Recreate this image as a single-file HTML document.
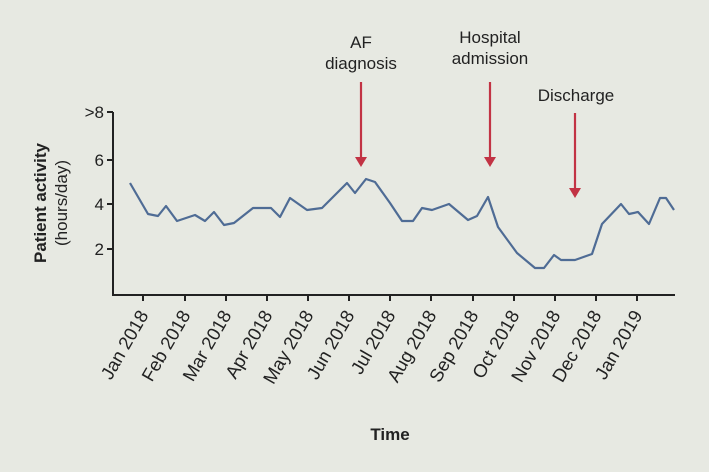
<!DOCTYPE html>
<html><head><meta charset="utf-8"><style>
body{margin:0;background:#e7e9e2;}
svg{display:block;font-family:"Liberation Sans",sans-serif;}
</style></head><body>
<svg width="709" height="472" viewBox="0 0 709 472">
<rect width="709" height="472" fill="#e7e9e2"/>
<g stroke="#222" stroke-width="2" fill="none">
<path d="M113,112 V295 H675"/>
<path d="M107,112H113M107,160H113M107,204H113M107,249H113"/>
<path d="M143,295v6M185,295v6M226,295v6M267,295v6M308,295v6M349,295v6M390,295v6M431,295v6M473,295v6M514,295v6M555,295v6M596,295v6M637,295v6"/>
</g>
<g font-size="17" fill="#222" text-anchor="end">
<text x="104" y="118">&gt;8</text>
<text x="104" y="166">6</text>
<text x="104" y="210">4</text>
<text x="104" y="255">2</text>
</g>
<polyline fill="none" stroke="#4f6c95" stroke-width="2.2" stroke-linejoin="round" points="130,183 148,214 158,216 166,206 177,221 195,215 205,221 214,212 224,225 234,223 253,208 271,208 280,217 290,198 307,210 322,208 347,183 355,193 366,179 375,182 390,203 402,221 413,221 422,208 432,210 449,204 468,220 477,216 488,197 498,227 517,253 535,268 544,268 554,255 561,260 575,260 592,254 602,224 621,204 629,214 638,212 649,224 660,198 666,198 674,210"/>
<g stroke="#c23344" stroke-width="2.2"><path d="M361,82V158M490,82V158M575,113V189"/></g>
<g fill="#c23344"><path d="M355,157H367L361,167Z"/><path d="M484,157H496L490,167Z"/><path d="M569,188H581L575,198Z"/></g>
<g font-size="17" fill="#222" text-anchor="middle">
<text x="361" y="48">AF</text><text x="361" y="69">diagnosis</text>
<text x="490" y="43">Hospital</text><text x="490" y="64">admission</text>
<text x="576" y="101">Discharge</text>
</g>
<g font-size="18.5" fill="#222" text-anchor="end">
<text transform="translate(149,315) rotate(-60)">Jan 2018</text>
<text transform="translate(191,315) rotate(-60)">Feb 2018</text>
<text transform="translate(232,315) rotate(-60)">Mar 2018</text>
<text transform="translate(273,315) rotate(-60)">Apr 2018</text>
<text transform="translate(314,315) rotate(-60)">May 2018</text>
<text transform="translate(355,315) rotate(-60)">Jun 2018</text>
<text transform="translate(396,315) rotate(-60)">Jul 2018</text>
<text transform="translate(437,315) rotate(-60)">Aug 2018</text>
<text transform="translate(479,315) rotate(-60)">Sep 2018</text>
<text transform="translate(520,315) rotate(-60)">Oct 2018</text>
<text transform="translate(561,315) rotate(-60)">Nov 2018</text>
<text transform="translate(602,315) rotate(-60)">Dec 2018</text>
<text transform="translate(643,315) rotate(-60)">Jan 2019</text>
</g>
<text x="390" y="440" font-size="17" font-weight="bold" text-anchor="middle" fill="#222">Time</text>
<text transform="translate(46,203) rotate(-90)" font-size="17" font-weight="bold" text-anchor="middle" fill="#222">Patient activity</text>
<text transform="translate(67,203) rotate(-90)" font-size="17" text-anchor="middle" fill="#222">(hours/day)</text>
</svg>
</body></html>
